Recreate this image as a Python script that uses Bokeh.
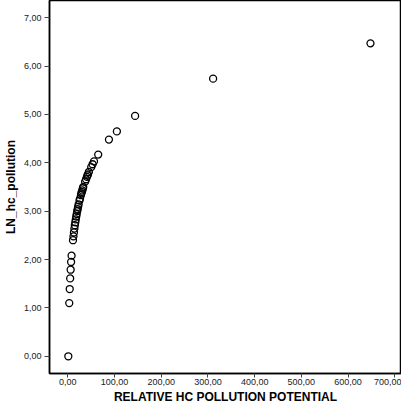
from bokeh.plotting import figure
from bokeh.models import CustomJSTickFormatter, FixedTicker, Range1d
from bokeh.embed import file_html
from bokeh.resources import INLINE

rel_hc = [1, 3, 4, 5, 6, 7, 8, 11, 12, 13, 14, 15, 16, 17, 18, 19, 20, 21, 22,
          23, 25, 26, 28, 29, 30, 31, 32, 33, 37, 39, 41, 42, 43, 45, 50, 53,
          56, 65, 88, 105, 144, 311, 648]
ln_hc = [0.00, 1.10, 1.39, 1.61, 1.79, 1.95, 2.08, 2.40, 2.48, 2.56, 2.64, 2.71,
         2.77, 2.83, 2.89, 2.94, 3.00, 3.04, 3.09, 3.14, 3.22, 3.26, 3.33, 3.37,
         3.40, 3.43, 3.47, 3.50, 3.61, 3.66, 3.71, 3.74, 3.76, 3.81, 3.91, 3.97,
         4.03, 4.17, 4.48, 4.65, 4.97, 5.74, 6.47]
x_ticks = [0, 100, 200, 300, 400, 500, 600, 700]
y_ticks = [0, 1, 2, 3, 4, 5, 6, 7]

p = figure(width=401, height=406, output_backend="svg", toolbar_location=None,
           x_range=Range1d(-39.3, 714.4), y_range=Range1d(-0.356, 7.356),
           min_border_top=0, min_border_right=0, min_border_left=0, min_border_bottom=0)
p.scatter(rel_hc, ln_hc, size=7, marker="circle", fill_color=None,
          line_color="black", line_width=1.3)

p.grid.visible = False
p.outline_line_color = "black"
p.outline_line_width = 1.5
p.background_fill_color = "white"
p.border_fill_color = "white"

fmt = CustomJSTickFormatter(code="return tick.toFixed(2).replace('.', ',');")
p.xaxis.ticker = FixedTicker(ticks=x_ticks)
p.yaxis.ticker = FixedTicker(ticks=y_ticks)
for ax in (p.xaxis[0], p.yaxis[0]):
    ax.formatter = fmt
    ax.axis_line_color = "black"
    ax.axis_line_width = 1.5
    ax.major_tick_in = 0
    ax.major_tick_out = 5
    ax.major_tick_line_color = "#444444"
    ax.minor_tick_line_color = None
    ax.major_label_text_font = "Liberation Sans"
    ax.major_label_text_font_size = "9px"
    ax.major_label_text_color = "#222222"
    ax.axis_label_text_font = "Liberation Sans"
    ax.axis_label_text_font_size = "12px"
    ax.axis_label_text_font_style = "bold"
    ax.axis_label_text_color = "black"
    ax.major_label_standoff = 3
    ax.axis_label_standoff = 3

p.xaxis.major_tick_out = 4
p.xaxis.major_label_standoff = 1
p.xaxis.axis_label_standoff = 2
p.xaxis.axis_label = "RELATIVE HC POLLUTION POTENTIAL"
p.yaxis.axis_label = "LN_hc_pollution"
p.xaxis.axis_label_text_line_height = 1.0
p.xaxis.major_label_text_line_height = 1.0

open("out.html", "w").write(file_html(p, INLINE))
